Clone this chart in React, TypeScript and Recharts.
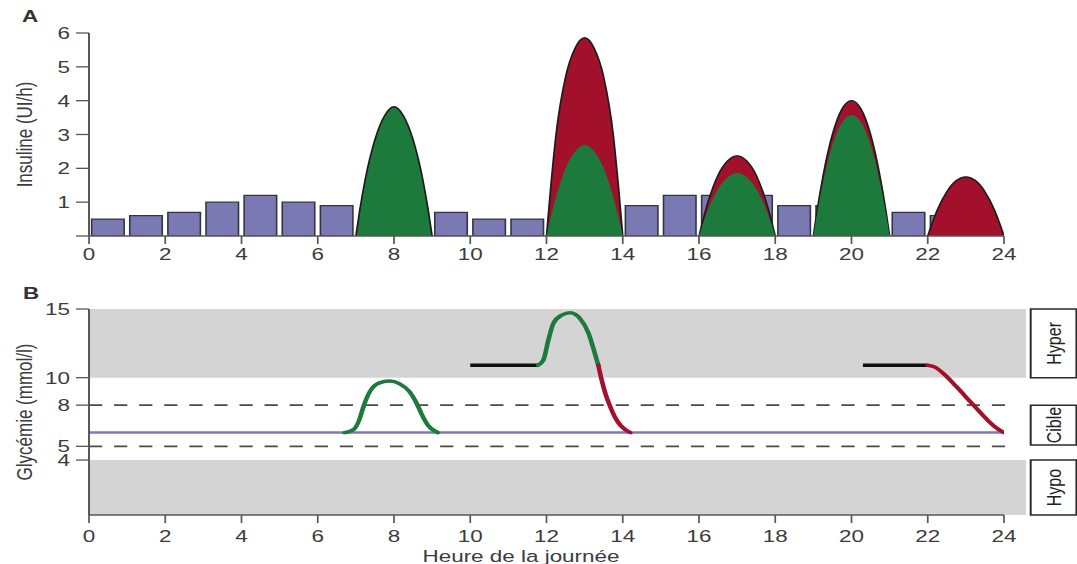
import React from 'react';
import {
  ComposedChart,
  BarChart,
  Bar,
  Area,
  Line,
  XAxis,
  YAxis,
  ReferenceArea,
  ReferenceLine,
} from 'recharts';

// ---------- layout constants (page is horizontally stretched like the source) ----------
const S = 1.32;
const PAGE_W = 1077;
const PAGE_H = 564;
const CW = PAGE_W / S;
const PLOT_L = 89 / S;
const PLOT_R = (PAGE_W - 1004) / S;
const YAXIS_W = 50;
const FONT = '"Liberation Sans", Arial, Helvetica, sans-serif';
const TEXT = '#3c3c3c';
const AXIS = '#575757';
const BAR_FILL = '#7b79b4';
const GREEN = '#1d7a3d';
const RED = '#a3102c';
const GREY = '#d4d4d4';
const BLUE = '#7b7ab5';
const OUTLINE = '#1c1c1c';

// ---------- tick labels ----------
const hourTicks = [0, 2, 4, 6, 8, 10, 12, 14, 16, 18, 20, 22, 24];
const insulinTicks = [0, 1, 2, 3, 4, 5, 6];
const glycTicks = [4, 5, 8, 10, 15];

// ---------- panel A : insulin ----------
const basalMid = [0.5, 1.5, 2.5, 3.5, 4.5, 5.5, 6.5, 9.5, 10.5, 11.5, 14.5, 15.5, 16.5, 17.5, 18.5, 19.5, 21.5, 22.5];
const basalRate = [0.5, 0.6, 0.7, 1.0, 1.2, 1.0, 0.9, 0.7, 0.5, 0.5, 0.9, 1.2, 1.2, 1.2, 0.9, 0.9, 0.7, 0.6];

const bolus8X = [7, 7.1, 7.25, 7.5, 7.75, 8, 8.25, 8.5, 8.75, 8.9, 9];
const bolus8Meal = [0, 0.75, 1.7, 2.85, 3.55, 3.82, 3.55, 2.85, 1.7, 0.75, 0];

const bolus13X = [12, 12.1, 12.25, 12.5, 12.75, 13, 13.25, 13.5, 13.75, 13.9, 14];
const bolus13Total = [0, 1.3, 3.0, 4.7, 5.55, 5.86, 5.55, 4.7, 3.0, 1.3, 0];
const bolus13Meal = [0, 0.5, 1.15, 2.0, 2.5, 2.69, 2.5, 2.0, 1.15, 0.5, 0];

const bolus17X = [16, 16.1, 16.25, 16.5, 16.75, 17, 17.25, 17.5, 17.75, 17.9, 18];
const bolus17Total = [0, 0.45, 1.05, 1.8, 2.22, 2.37, 2.22, 1.8, 1.05, 0.45, 0];
const bolus17Meal = [0, 0.35, 0.82, 1.4, 1.74, 1.86, 1.74, 1.4, 0.82, 0.35, 0];

const bolus20X = [19, 19.1, 19.25, 19.5, 19.75, 20, 20.25, 20.5, 20.75, 20.9, 21];
const bolus20Total = [0, 0.76, 1.75, 3.0, 3.75, 4.0, 3.75, 3.0, 1.75, 0.76, 0];
const bolus20Meal = [0, 0.68, 1.57, 2.69, 3.36, 3.58, 3.36, 2.69, 1.57, 0.68, 0];

const bolus23X = [22, 22.1, 22.25, 22.5, 22.75, 23, 23.25, 23.5, 23.75, 23.9, 24];
const bolus23Corr = [0, 0.33, 0.77, 1.31, 1.64, 1.75, 1.64, 1.31, 0.77, 0.33, 0];

// ---------- panel B : glycaemia ----------
const targetX = [0, 24];
const targetG = [6, 6];

const breakfastX = [6.7, 6.95, 7.1, 7.2, 7.37, 7.6, 7.88, 8.15, 8.4, 8.6, 8.75, 8.9, 9.15];
const breakfastG = [6.0, 6.25, 7.0, 7.9, 9.0, 9.6, 9.75, 9.55, 9.0, 8.1, 7.2, 6.5, 6.0];

const preLunchX = [10, 11.78];
const preLunchG = [10.9, 10.9];
const lunchRiseX = [11.78, 11.92, 12.05, 12.18, 12.4, 12.62, 12.88, 13.1, 13.28, 13.36];
const lunchRiseG = [10.9, 11.3, 12.75, 13.95, 14.55, 14.72, 14.3, 13.25, 11.65, 10.9];
const lunchFallX = [13.36, 13.45, 13.55, 13.67, 13.8, 13.95, 14.2];
const lunchFallG = [10.9, 9.8, 8.8, 7.9, 7.1, 6.5, 6.0];

const eveningX = [20.3, 22.0];
const eveningG = [10.9, 10.9];
const nightFallX = [22.0, 22.2, 22.45, 22.75, 23.1, 23.45, 23.75, 24.0];
const nightFallG = [10.9, 10.75, 10.2, 9.35, 8.3, 7.25, 6.45, 6.0];

const pts = (xs: number[], vs: number[]) => xs.map((x, i) => ({ x, v: vs[i] }));
const basalData = basalMid.map((x, i) => ({ x, rate: basalRate[i] }));

// ---------- label renderers ----------
const VTitle = (props: any) => {
  const { viewBox, text, cx, size } = props;
  const cy = viewBox.y + viewBox.height / 2;
  return (
    <text
      x={cx}
      y={cy}
      transform={`rotate(-90 ${cx} ${cy})`}
      textAnchor="middle"
      dominantBaseline="central"
      fontFamily={FONT}
      fontSize={size}
      fill={TEXT}
    >
      {text}
    </text>
  );
};

const HTitle = (props: any) => {
  const { viewBox, text, cx, dy, size } = props;
  return (
    <text x={cx} y={viewBox.y + dy} textAnchor="middle" fontFamily={FONT} fontSize={size} fill={TEXT}>
      {text}
    </text>
  );
};

const BoxLabel = (props: any) => {
  const { viewBox, text } = props;
  const cx = viewBox.x + viewBox.width / 2;
  const cy = viewBox.y + viewBox.height / 2;
  return (
    <text
      x={cx}
      y={cy}
      transform={`rotate(-90 ${cx} ${cy})`}
      textAnchor="middle"
      dominantBaseline="central"
      fontFamily={FONT}
      fontSize={16}
      fill="#222"
    >
      {text}
    </text>
  );
};

const tickStyle = { fill: TEXT, fontSize: 17, fontFamily: FONT };
const tickLine = { stroke: AXIS, strokeWidth: 1.3 };
const axisLine = { stroke: AXIS, strokeWidth: 1.5 };

export default function App() {
  const marginA = { top: 33, right: PLOT_R, bottom: 14, left: PLOT_L - YAXIS_W };
  const marginB = { top: 29, right: PLOT_R, bottom: 19, left: PLOT_L - YAXIS_W };

  return (
    <div
      style={{
        position: 'absolute',
        left: 0,
        top: 0,
        width: PAGE_W,
        height: PAGE_H,
        overflow: 'hidden',
        background: '#fff',
      }}
    >
      <div
        style={{
          position: 'absolute',
          left: 0,
          top: 0,
          width: CW,
          height: PAGE_H,
          transform: `scaleX(${S})`,
          transformOrigin: '0 0',
        }}
      >
        {/* Panel A: basal bars */}
        <div style={{ position: 'absolute', left: 0, top: 0 }}>
          <BarChart
            width={CW}
            height={280}
            data={basalData}
            margin={{ top: 33, right: PLOT_R, bottom: 44, left: PLOT_L }}
          >
            <XAxis hide type="number" dataKey="x" domain={[0, 24]} allowDataOverflow />
            <YAxis hide type="number" domain={[0, 6]} allowDataOverflow />
            <Bar
              dataKey="rate"
              barSize={32.5 / S}
              fill={BAR_FILL}
              stroke="#34343f"
              strokeWidth={1.2}
              isAnimationActive={false}
            />
          </BarChart>
        </div>

        {/* Panel A: boluses + axes */}
        <div style={{ position: 'absolute', left: 0, top: 0 }}>
          <ComposedChart width={CW} height={280} margin={marginA}>
            <XAxis
              type="number"
              dataKey="x"
              domain={[0, 24]}
              allowDataOverflow
              ticks={hourTicks}
              interval={0}
              tick={tickStyle}
              tickLine={tickLine}
              axisLine={axisLine}
              tickSize={8}
              tickMargin={4}
              height={30}
            />
            <YAxis
              type="number"
              domain={[0, 6]}
              allowDataOverflow
              ticks={insulinTicks}
              interval={0}
              tickFormatter={(v: number) => (v === 0 ? '' : String(v))}
              tick={tickStyle}
              tickLine={tickLine}
              axisLine={axisLine}
              tickSize={13 / S}
              tickMargin={4.6}
              width={YAXIS_W}
              label={<VTitle text="Insuline (UI/h)" cx={24 / S} size={17} />}
            />
            <Area data={pts(bolus8X, bolus8Meal)} dataKey="v" type="monotone" fill={GREEN} fillOpacity={1} stroke={OUTLINE} strokeWidth={1.3} isAnimationActive={false} dot={false} activeDot={false} />
            <Area data={pts(bolus13X, bolus13Total)} dataKey="v" type="monotone" fill={RED} fillOpacity={1} stroke={OUTLINE} strokeWidth={1.3} isAnimationActive={false} dot={false} activeDot={false} />
            <Area data={pts(bolus13X, bolus13Meal)} dataKey="v" type="monotone" fill={GREEN} fillOpacity={1} stroke="none" isAnimationActive={false} dot={false} activeDot={false} />
            <Area data={pts(bolus17X, bolus17Total)} dataKey="v" type="monotone" fill={RED} fillOpacity={1} stroke={OUTLINE} strokeWidth={1.3} isAnimationActive={false} dot={false} activeDot={false} />
            <Area data={pts(bolus17X, bolus17Meal)} dataKey="v" type="monotone" fill={GREEN} fillOpacity={1} stroke="none" isAnimationActive={false} dot={false} activeDot={false} />
            <Area data={pts(bolus20X, bolus20Total)} dataKey="v" type="monotone" fill={RED} fillOpacity={1} stroke={OUTLINE} strokeWidth={1.3} isAnimationActive={false} dot={false} activeDot={false} />
            <Area data={pts(bolus20X, bolus20Meal)} dataKey="v" type="monotone" fill={GREEN} fillOpacity={1} stroke="none" isAnimationActive={false} dot={false} activeDot={false} />
            <Area data={pts(bolus23X, bolus23Corr)} dataKey="v" type="monotone" fill={RED} fillOpacity={1} stroke={OUTLINE} strokeWidth={1.3} isAnimationActive={false} dot={false} activeDot={false} />
          </ComposedChart>
        </div>

        {/* Panel B: glycaemia */}
        <div style={{ position: 'absolute', left: 0, top: 280 }}>
          <ComposedChart width={CW} height={284} margin={marginB}>
            <XAxis
              type="number"
              dataKey="x"
              domain={[0, 24]}
              allowDataOverflow
              ticks={hourTicks}
              interval={0}
              tick={tickStyle}
              tickLine={tickLine}
              axisLine={axisLine}
              tickSize={8}
              tickMargin={7}
              height={30}
              label={<HTitle text="Heure de la journée" cx={521 / S} dy={47} size={17} />}
            />
            <YAxis
              type="number"
              domain={[0, 15]}
              allowDataOverflow
              ticks={glycTicks}
              interval={0}
              tick={tickStyle}
              tickLine={tickLine}
              axisLine={axisLine}
              tickSize={13 / S}
              tickMargin={4.6}
              width={YAXIS_W}
              label={<VTitle text="Glycémie (mmol/l)" cx={24 / S} size={17} />}
            />
            <ReferenceArea x1={0} x2={24.58} y1={10} y2={15} fill={GREY} fillOpacity={1} stroke="none" ifOverflow="visible" />
            <ReferenceArea x1={0} x2={24.58} y1={0} y2={4} fill={GREY} fillOpacity={1} stroke="none" ifOverflow="visible" />
            <ReferenceArea x1={24.7} x2={25.9} y1={10} y2={15} fill="#fff" fillOpacity={1} stroke="#2a2a2a" strokeWidth={1.5} ifOverflow="visible" label={<BoxLabel text="Hyper" />} />
            <ReferenceArea x1={24.7} x2={25.9} y1={5.1} y2={8} fill="#fff" fillOpacity={1} stroke="#2a2a2a" strokeWidth={1.5} ifOverflow="visible" label={<BoxLabel text="Cible" />} />
            <ReferenceArea x1={24.7} x2={25.9} y1={0} y2={4} fill="#fff" fillOpacity={1} stroke="#2a2a2a" strokeWidth={1.5} ifOverflow="visible" label={<BoxLabel text="Hypo" />} />
            <ReferenceLine segment={[{ x: 0, y: 8 }, { x: 24.15, y: 8 }]} stroke="#4a4a4a" strokeWidth={1.8} strokeDasharray="10 9" ifOverflow="visible" />
            <ReferenceLine segment={[{ x: 0, y: 5 }, { x: 24.15, y: 5 }]} stroke="#4a4a4a" strokeWidth={1.8} strokeDasharray="10 9" ifOverflow="visible" />
            <Line data={pts(targetX, targetG)} dataKey="v" type="linear" stroke={BLUE} strokeWidth={2.5} dot={false} activeDot={false} isAnimationActive={false} />
            <Line data={pts(breakfastX, breakfastG)} dataKey="v" type="monotone" stroke={GREEN} strokeWidth={3.5} strokeLinecap="round" dot={false} activeDot={false} isAnimationActive={false} />
            <Line data={pts(preLunchX, preLunchG)} dataKey="v" type="linear" stroke="#111" strokeWidth={3.5} dot={false} activeDot={false} isAnimationActive={false} />
            <Line data={pts(lunchRiseX, lunchRiseG)} dataKey="v" type="monotone" stroke={GREEN} strokeWidth={3.5} strokeLinecap="round" dot={false} activeDot={false} isAnimationActive={false} />
            <Line data={pts(lunchFallX, lunchFallG)} dataKey="v" type="monotone" stroke={RED} strokeWidth={3.5} strokeLinecap="round" dot={false} activeDot={false} isAnimationActive={false} />
            <Line data={pts(eveningX, eveningG)} dataKey="v" type="linear" stroke="#111" strokeWidth={3.5} dot={false} activeDot={false} isAnimationActive={false} />
            <Line data={pts(nightFallX, nightFallG)} dataKey="v" type="monotone" stroke={RED} strokeWidth={3.5} strokeLinecap="round" dot={false} activeDot={false} isAnimationActive={false} />
          </ComposedChart>
        </div>

        <div style={{ position: 'absolute', left: 22 / S, top: 8, fontFamily: FONT, fontWeight: 'bold', fontSize: 17, lineHeight: '17px', color: '#333' }}>A</div>
        <div style={{ position: 'absolute', left: 23 / S, top: 285, fontFamily: FONT, fontWeight: 'bold', fontSize: 17, lineHeight: '17px', color: '#333' }}>B</div>
      </div>
    </div>
  );
}
